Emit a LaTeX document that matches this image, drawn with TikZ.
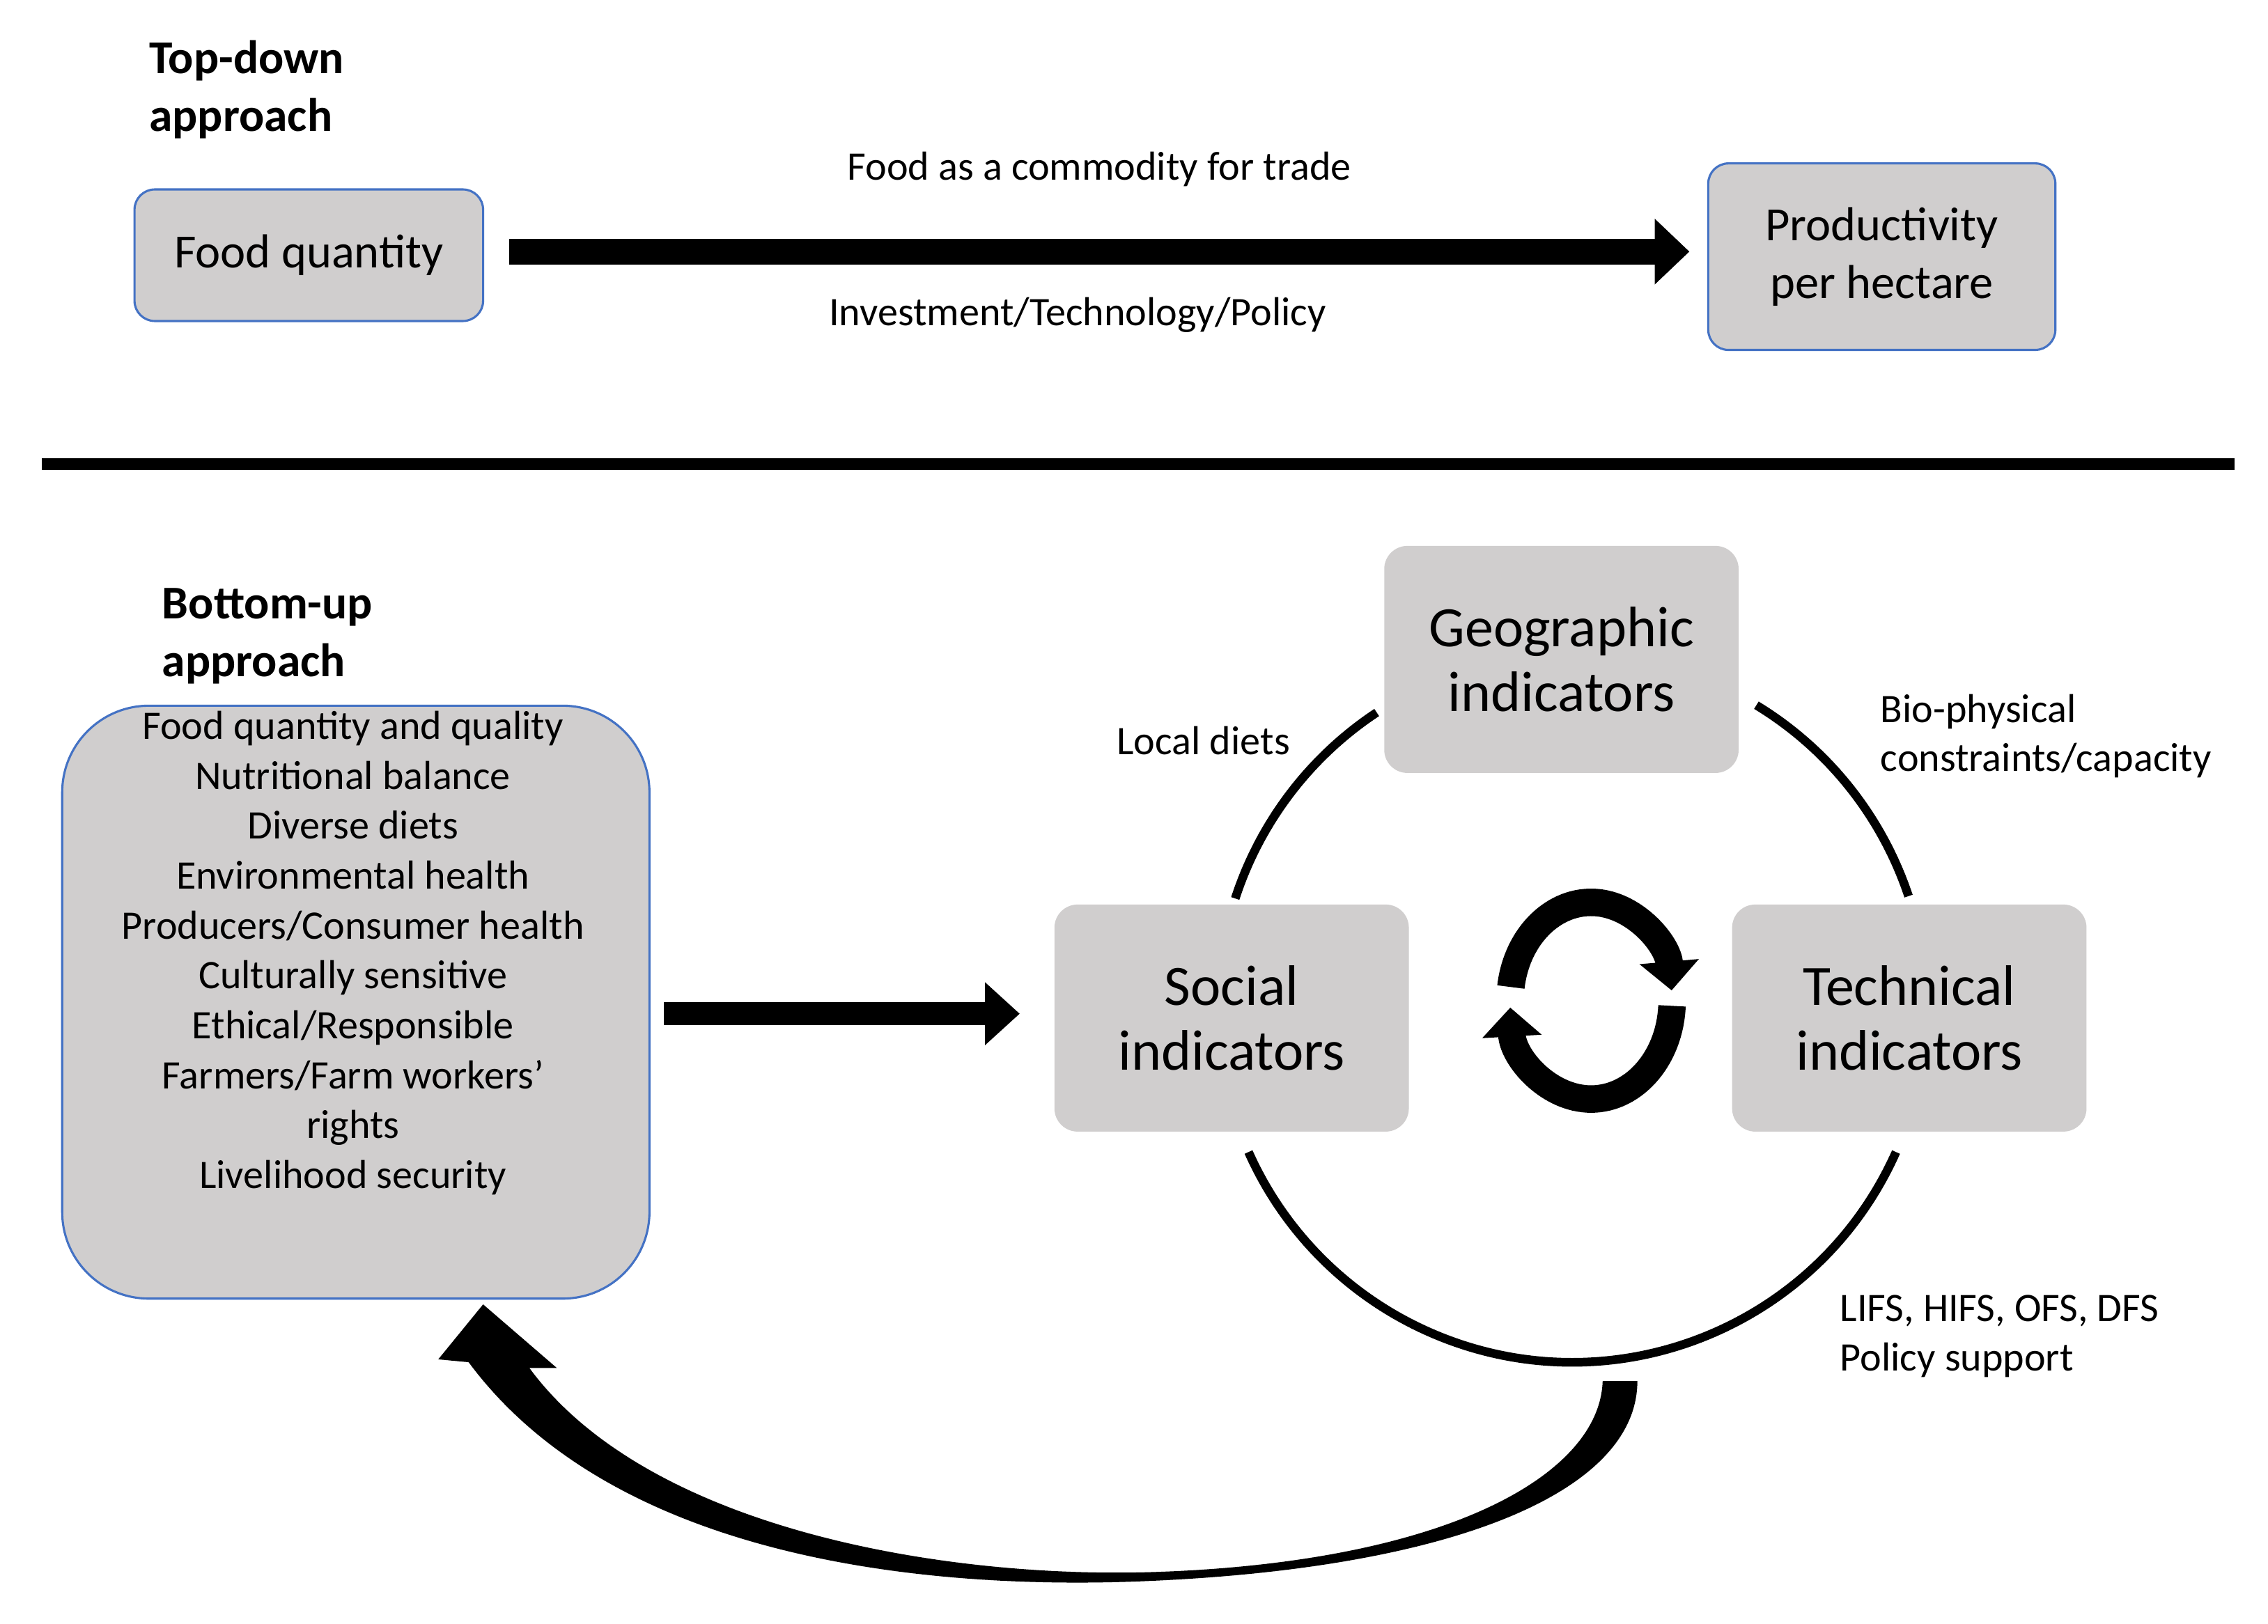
\documentclass[tikz,border=0pt]{standalone}
\usepackage{fontspec}
\setmainfont{Carlito}
\usetikzlibrary{arrows.meta}
\definecolor{boxgray}{HTML}{D0CECE}
\definecolor{boxblue}{HTML}{4472C4}
\begin{document}
\begin{tikzpicture}[x=1pt,y=-1pt,
  bluebox/.style={draw=boxblue,line width=1.5pt,fill=boxgray,rounded corners=14pt,align=center,font=\fontsize{33}{40}\selectfont},
  indbox/.style={fill=boxgray,rounded corners=16pt,align=center,font=\fontsize{39.5}{45}\selectfont,minimum width=245pt,minimum height=157pt,inner sep=0pt},
  lbl/.style={font=\fontsize{28}{34}\selectfont,align=left,inner sep=0pt},
  ttl/.style={font=\bfseries\fontsize{32.5}{40}\selectfont,align=left,inner sep=0pt,anchor=west},
  bigarrow/.style={line width=18pt,-{Triangle[length=24pt,width=44pt]}},
  ring/.style={line width=6pt}]
\useasboundingbox[fill=white] (0,0) rectangle (1568,1123);

% top-down
\node[ttl] (td) at (103,62) {Top-down\\approach};
\node[bluebox,minimum width=241pt,minimum height=91pt] (fq) at (213.5,176.5) {Food quantity};
\node[bluebox,minimum width=240pt,minimum height=129pt] (pr) at (1301,177.5) {Productivity\\per hectare};
\coordinate (a1s) at (352,174);
\coordinate (a1e) at (1168,174);
\draw[bigarrow] (a1s) -- (a1e);
\node[lbl] (l1) at (760,117) {Food as a commodity for trade};
\node[lbl] (l2) at (745,218) {Investment/Technology/Policy};

% divider
\coordinate (d1) at (29,321);
\coordinate (d2) at (1545,321);
\draw[line width=8pt] (d1) -- (d2);

% bottom-up
\node[ttl] (bu) at (112,440) {Bottom-up\\approach};
\node[draw=boxblue,line width=1.5pt,fill=boxgray,rounded corners=60pt,minimum width=406pt,minimum height=410pt,inner sep=0pt] (list) at (246,693) {};
\node[font=\fontsize{28}{34.5}\selectfont,align=center,anchor=center,inner sep=0pt] (listtxt) at (244,659) {Food quantity and quality\\Nutritional balance\\Diverse diets\\Environmental health\\Producers/Consumer health\\Culturally sensitive\\Ethical/Responsible\\Farmers/Farm workers’\\rights\\Livelihood security};

\coordinate (a2s) at (459,701);
\coordinate (a2e) at (705,701);
\draw[line width=16pt,-{Triangle[length=24pt,width=42pt]}] (a2s) -- (a2e);

% indicators
\coordinate (c) at (1087,697);
\draw[ring] ([shift={(-162:245)}]c) arc[start angle=-162,end angle=-123.5,radius=245];
\draw[ring] ([shift={(-58.7:245)}]c) arc[start angle=-58.7,end angle=-18.4,radius=245];
\draw[ring] ([shift={(24:245)}]c) arc[start angle=24,end angle=156,radius=245];

\node[indbox] (geo) at (1079.5,456) {Geographic\\indicators};
\node[indbox] (soc) at (851.5,704) {Social\\indicators};
\node[indbox] (tec) at (1320,704) {Technical\\indicators};

\node[lbl,anchor=center] (ld) at (832,512) {Local diets};
\node[lbl,anchor=west] (bio) at (1300,509) {Bio-physical\\constraints/capacity};
\node[lbl,anchor=west] (lifs) at (1272,924) {LIFS, HIFS, OFS, DFS\\Policy support};

% small cycle arrow
\coordinate (sc) at (1100,692);
\draw[line width=19pt,-{Triangle[length=20pt,width=40pt]}]
  ([shift={(-172:56 and 68)}]sc) arc[start angle=-172,end angle=-6,x radius=56,y radius=68];
\draw[line width=19pt,-{Triangle[length=20pt,width=40pt]}]
  ([shift={(3:56 and 68)}]sc) arc[start angle=3,end angle=176,x radius=56,y radius=68];

% big return arrow
\fill (324,942) .. controls (430,1085) and (660,1100) .. (800,1093)
  .. controls (1010,1083) and (1132,1030) .. (1132,955)
  -- (1108,955) .. controls (1106,1020) and (1000,1080) .. (800,1087)
  .. controls (660,1092) and (450,1060) .. (366,946)
  -- (385,946) -- (334,902) -- (303,940) -- cycle;
\end{tikzpicture}
\end{document}
